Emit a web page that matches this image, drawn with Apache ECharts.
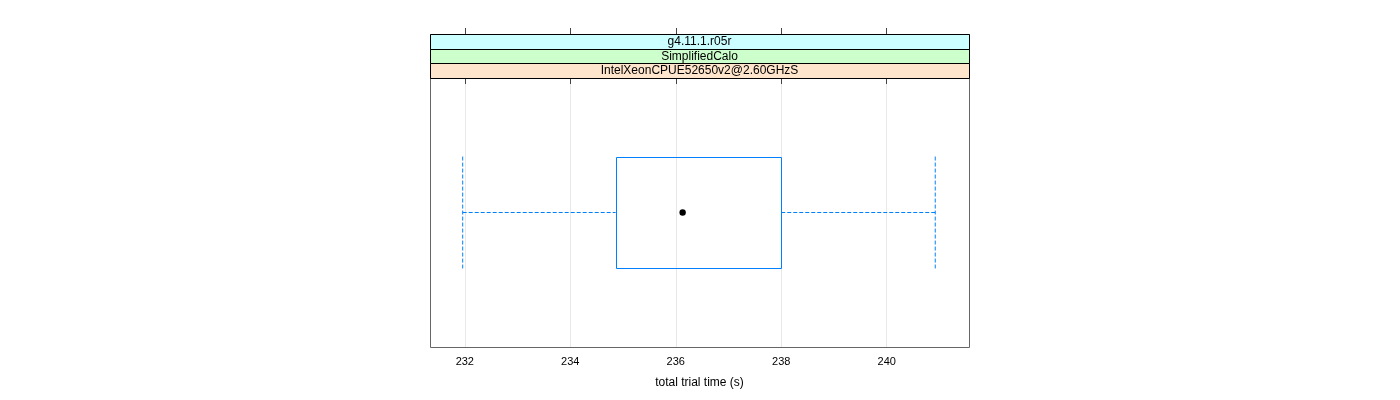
<!DOCTYPE html>
<html>
<head>
<meta charset="utf-8">
<script src="https://cdn.jsdelivr.net/npm/echarts@6/dist/echarts.min.js"></script>
<style>html,body{margin:0;padding:0;background:#fff}#c{width:1400px;height:400px}</style>
</head>
<body>
<div id="c"></div>
<script>
// Data
const stripLabels = ['g4.11.1.r05r', 'SimplifiedCalo', 'IntelXeonCPUE52650v2@2.60GHzS'];
const stripColors = ['#ccffff', '#ccffcc', '#ffe5cc'];
const groups = ['IntelXeonCPUE52650v2@2.60GHzS'];
// [lower whisker, Q1, median, Q3, upper whisker]
const boxStats = [[231.96, 234.86, 236.13, 238.0, 240.92]];
const tickValues = [232, 234, 236, 238, 240];
const xMin = 231.34, xMax = 241.56;
const xTitle = 'total trial time (s)';

const chart = echarts.init(document.getElementById('c'), null, {renderer: 'canvas'});
const FONT = 'Liberation Sans, Arial, sans-serif';
const gl = 430, gr = 969, gt = 78, gb = 347, stripTop = 34;
const stripH = (gt - stripTop) / stripLabels.length;
const BLUE = '#0080ff';
// vertical layout on a hidden 0..1 axis
const CY = 0.5, HALF = 0.208;

const graphics = [];
graphics.push({
  type: 'rect', z: 9, silent: true,
  shape: {x: gl + 0.5, y: stripTop + 0.5, width: gr - gl, height: gb - stripTop},
  style: {fill: 'rgba(0,0,0,0)', stroke: '#666666', lineWidth: 1}
});
stripLabels.forEach((lab, i) => {
  const y = stripTop + i * stripH;
  graphics.push({
    type: 'rect', z: 10, silent: true,
    shape: {x: gl + 0.5, y: Math.round(y) + 0.5, width: gr - gl, height: Math.round(y + stripH) - Math.round(y)},
    style: {fill: stripColors[i], stroke: '#000000', lineWidth: 1}
  });
  graphics.push({
    type: 'text', z: 11, silent: true,
    x: (gl + gr) / 2, y: y + stripH / 2 + 0.5,
    style: {text: lab, fill: '#000', font: '12px ' + FONT, align: 'center', verticalAlign: 'middle'}
  });
});

const whiskerStyle = {color: BLUE, width: 1, type: [4, 2]};
function lineSeries(name, pts) {
  return {
    type: 'line', name: name, data: pts, symbol: 'none', silent: true,
    lineStyle: whiskerStyle, itemStyle: {color: BLUE}, z: 3, animation: false
  };
}
const series = [];
boxStats.forEach(s => {
  const [lo, q1, med, q3, hi] = s;
  series.push(lineSeries('lowWhisker', [[lo, CY], [q1, CY]]));
  series.push(lineSeries('highWhisker', [[q3, CY], [hi, CY]]));
  series.push(lineSeries('lowCap', [[lo, CY - HALF], [lo, CY + HALF]]));
  series.push(lineSeries('highCap', [[hi, CY - HALF], [hi, CY + HALF]]));
});
series.push({
  type: 'custom', silent: true, z: 4,
  data: boxStats.map(s => [s[1], s[2], s[3]]),
  encode: {x: [0, 1, 2]},
  renderItem: function (params, api) {
    const pQ1 = api.coord([api.value(0), CY + HALF]);
    const pQ3 = api.coord([api.value(2), CY - HALF]);
    const pMed = api.coord([api.value(1), CY]);
    const x0 = Math.round(pQ1[0]) + 0.5, x1 = Math.round(pQ3[0]) + 0.5;
    const y0 = Math.round(pQ1[1]) + 0.5, y1 = Math.round(pQ3[1]) + 0.5;
    return {
      type: 'group',
      children: [
        {type: 'rect', shape: {x: x0, y: y0, width: x1 - x0, height: y1 - y0}, style: {stroke: BLUE, fill: 'rgba(0,0,0,0)', lineWidth: 1}},
        {type: 'circle', shape: {cx: pMed[0], cy: pMed[1], r: 3.2}, style: {fill: '#000', stroke: null}}
      ]
    };
  }
});

const option = {
  animation: false,
  backgroundColor: '#fff',
  grid: {left: gl, right: 1400 - gr, top: gt, bottom: 400 - gb, containLabel: false},
  xAxis: [{
    type: 'value', min: xMin, max: xMax, position: 'bottom',
    name: xTitle, nameLocation: 'middle', nameGap: 30,
    nameTextStyle: {color: '#000', fontSize: 12, fontFamily: FONT},
    axisLine: {show: false},
    axisTick: {show: true, inside: false, length: 6, customValues: tickValues, lineStyle: {color: '#444'}},
    axisLabel: {customValues: tickValues, color: '#000', fontSize: 11, fontFamily: FONT, margin: 9},
    splitLine: {show: true, lineStyle: {color: '#e8e8e8', width: 1}}
  }, {
    type: 'value', min: xMin, max: xMax, position: 'top', offset: gt - stripTop,
    axisLine: {show: false},
    axisTick: {show: true, inside: false, length: 6, customValues: tickValues, lineStyle: {color: '#444'}},
    axisLabel: {show: false},
    splitLine: {show: false}
  }],
  yAxis: {
    type: 'value', min: 0, max: 1, inverse: true, name: groups[0], nameTextStyle: {color: 'rgba(0,0,0,0)'},
    axisLine: {show: false}, axisTick: {show: false}, axisLabel: {show: false}, splitLine: {show: false}
  },
  graphic: graphics,
  series: series
};
chart.setOption(option);
</script>
</body>
</html>
